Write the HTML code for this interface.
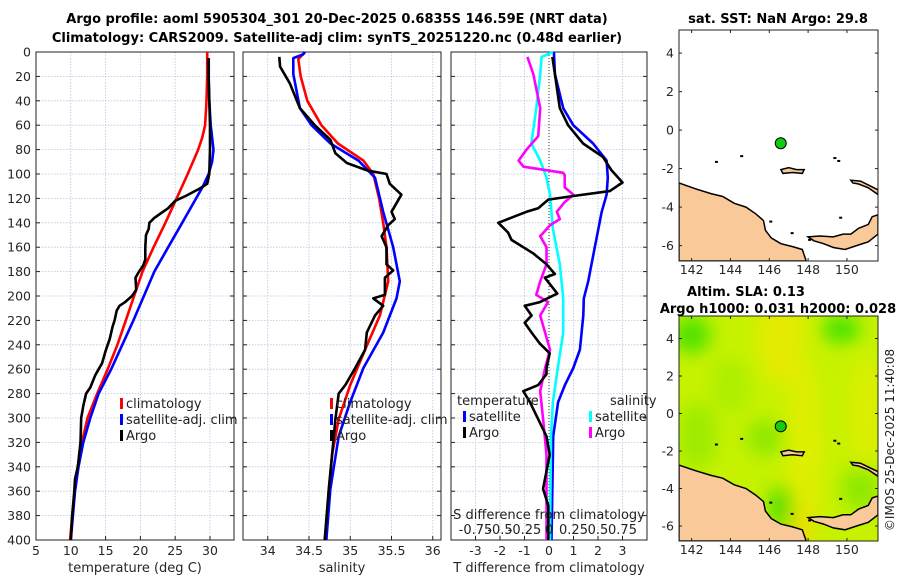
<!DOCTYPE html>
<html><head><meta charset="utf-8"><style>
body{margin:0;background:#fff}
svg{display:block;font-family:"DejaVu Sans","Liberation Sans",sans-serif}
</style></head><body>
<svg id="fig" width="900" height="580" viewBox="0 0 900 580">
<defs><filter id="blur" x="-20%" y="-20%" width="140%" height="140%"><feGaussianBlur stdDeviation="9"/></filter></defs>
<text x="337" y="23" text-anchor="middle" font-size="13" font-weight="bold">Argo profile: aoml 5905304_301 20-Dec-2025 0.6835S 146.59E (NRT data)</text>
<text x="337" y="42" text-anchor="middle" font-size="13" font-weight="bold">Climatology: CARS2009. Satellite-adj clim: synTS_20251220.nc (0.48d earlier)</text>
<g id="p1"></g>
<g id="p2"></g>
<g id="p3"></g>
<g id="m1"></g>
<g id="m2"></g>
<text transform="translate(894,440) rotate(-90)" text-anchor="middle" font-size="12" fill="#222">©IMOS 25-Dec-2025 11:40:08</text>
</svg>
<script>
const depthTicks=[0,20,40,60,80,100,120,140,160,180,200,220,240,260,280,300,320,340,360,380,400];
const tDepth=[0,20,40,60,70,80,100,120,140,160,180,200,220,240,260,280,300,320,340,360,380,400];
const tClim=[29.6,29.6,29.5,29.3,28.9,28.3,26.8,25.2,23.6,21.9,20.3,19.1,17.9,16.7,15.3,13.8,12.4,11.6,11.0,10.6,10.2,9.9];
const tSatDepth=[5,20,40,60,80,90,100,110,120,140,160,180,200,220,240,260,280,300,320,340,360,380,400];
const tSat=[29.8,29.8,29.9,30.1,30.5,30.3,29.8,29.0,28.0,26.0,24.0,22.0,20.5,19.0,17.4,15.8,14.0,12.8,11.8,11.1,10.6,10.3,10.0];
const tArgoDepth=[5,20,40,60,80,100,108,112,118,122,128,132,136,140,145,150,160,170,175,180,185,195,200,205,208,212,220,225,235,245,255,265,275,280,290,300,320,340,350,360,380,400];
const tArgo=[29.8,29.8,29.9,30.0,30.0,29.9,29.6,28.5,26.5,25.0,24.0,23.0,22.0,21.3,21.2,20.8,20.7,20.7,20.4,19.8,19.3,19.4,18.8,17.8,17.0,16.6,16.3,16.0,15.6,15.0,14.5,13.5,12.8,12.2,11.8,11.5,11.4,11.0,10.6,10.5,10.2,10.0];
const sClimDepth=[0,6,20,40,60,75,89,100,120,140,160,188,216,244,273,301,330,360,400];
const sClim=[34.45,34.37,34.4,34.48,34.65,34.85,35.16,35.28,35.35,35.4,35.44,35.46,35.36,35.18,35.0,34.86,34.78,34.74,34.71];
const sSatDepth=[0,2,5,18,46,60,75,89,103,131,160,188,202,230,259,287,315,358,400];
const sSat=[34.45,34.43,34.31,34.31,34.39,34.53,34.76,35.1,35.3,35.4,35.52,35.6,35.56,35.4,35.16,35.0,34.86,34.76,34.71];
const sArgoDepth=[4,12,26,46,60,72,83,91,97,100,108,117,131,137,142,151,160,174,179,185,199,202,208,216,230,244,259,273,280,301,330,358,400];
const sArgo=[34.14,34.15,34.27,34.39,34.57,34.76,34.82,34.96,35.2,35.44,35.48,35.62,35.5,35.54,35.46,35.38,35.44,35.44,35.52,35.42,35.42,35.28,35.4,35.3,35.2,35.18,35.06,34.94,34.86,34.82,34.78,34.74,34.69];
const dTSatDepth=[0,18,46,60,75,89,103,117,131,160,188,202,216,244,259,273,287,315,400];
const dTSat=[0.2,0.24,0.58,0.99,1.8,2.35,2.4,2.35,2.15,1.87,1.6,1.42,1.4,1.26,0.99,0.65,0.37,0.17,0.1];
const dTArgoDepth=[4,18,46,60,75,86,97,107,114,118,121,128,131,140,148,154,165,174,182,185,198,205,208,216,222,230,239,247,259,264,273,278,287,301,315,330,358,372,400];
const dTArgo=[0.14,0.24,0.44,0.78,1.39,2.2,2.55,3.0,2.48,0.99,-0.03,-0.44,-0.92,-2.07,-1.67,-1.53,-0.65,-0.1,0.24,-0.17,0.34,-0.37,-0.99,-0.71,-0.99,-0.71,-0.37,0.03,-0.1,-0.1,-0.44,-1.05,-0.78,-0.44,-0.1,0.03,-0.24,-0.03,-0.03];
const dSSatDepth=[0,4,18,46,75,89,103,117,145,174,202,230,259,287,315,400];
const dSSat=[0.04,-0.075,-0.09,-0.13,-0.18,-0.09,-0.025,0.01,0.04,0.11,0.145,0.145,0.09,0.04,0.02,0.01];
const dSArgoDepth=[4,18,46,69,80,89,94,99,101,111,117,123,131,137,142,151,160,174,188,199,205,216,244,259,278,301,330,400];
const dSArgo=[-0.22,-0.16,-0.09,-0.11,-0.23,-0.31,-0.26,0.145,0.16,0.16,0.25,0.16,0.08,0.11,0.01,-0.09,-0.025,-0.025,-0.09,-0.13,-0.01,-0.09,0.01,-0.04,-0.09,-0.06,-0.025,-0.025];
const argoLon=[146.59], argoLat=[-0.6835];

const NS="http://www.w3.org/2000/svg";
function el(p,tag,at,txt){const e=document.createElementNS(NS,tag);for(const k in at)e.setAttribute(k,at[k]);if(txt!==undefined)e.textContent=txt;p.appendChild(e);return e;}
const Y0=52,Y1=540;
const yD=d=>Y0+(Y1-Y0)*d/400;
function panel(g,x0,x1,v0,v1,xt,xtl,xlabel,showY){
  const xs=v=>x0+(x1-x0)*(v-v0)/(v1-v0);
  depthTicks.forEach(d=>{const l=el(g,'line',{x1:x0,x2:x1,y1:yD(d),y2:yD(d),stroke:'#b8c4e0','stroke-width':0.8,'stroke-dasharray':'1.5,1.5'});
    
    el(g,'line',{x1:x0,x2:x0+4,y1:yD(d),y2:yD(d),stroke:'#222'});el(g,'line',{x1:x1-4,x2:x1,y1:yD(d),y2:yD(d),stroke:'#222'});
    if(showY){const t=el(g,'text',{x:x0-5,y:yD(d)+4.5,'text-anchor':'end','font-size':12.5,fill:'#262626'},d);
      }});
  xt.forEach((v,i)=>{const l=el(g,'line',{x1:xs(v),x2:xs(v),y1:Y0,y2:Y1,stroke:'#b8c4e0','stroke-width':0.8,'stroke-dasharray':'1.5,1.5'});
    
    el(g,'line',{x1:xs(v),x2:xs(v),y1:Y1,y2:Y1-4,stroke:'#222'});
    if(xtl[i]!==''){const t=el(g,'text',{x:xs(v),y:Y1+15,'text-anchor':'middle','font-size':12.5,fill:'#262626'},xtl[i]);
      }});
  const r=el(g,'rect',{x:x0,y:Y0,width:x1-x0,height:Y1-Y0,fill:'none',stroke:'#222','stroke-width':1});
  
  const xl=el(g,'text',{x:(x0+x1)/2,y:Y1+32,'text-anchor':'middle','font-size':13,fill:'#262626'},xlabel);
  
  return xs;
}
function line(g,xs,vals,depths,color,name){
  const d=vals.map((v,i)=>(i?'L':'M')+xs(v).toFixed(1)+','+yD(depths[i]).toFixed(1)).join('');
  const p=el(g,'path',{d:d,fill:'none',stroke:color,'stroke-width':2.6,'stroke-linejoin':'round'});
  
}
function legend(g,x,y,color,label,name){
  el(g,'rect',{x:x,y:y-10,width:3,height:11,fill:color});
  const t=el(g,'text',{x:x+6,y:y,'font-size':13,fill:'#222'},label);
  
}
const g1=document.getElementById('p1');
const xs1=panel(g1,36,234,5,33.45,[5,10,15,20,25,30],['5','10','15','20','25','30'],'temperature (deg C)',true);
line(g1,xs1,tClim,tDepth,'#f00','temp-climatology-line');
line(g1,xs1,tSat,tSatDepth,'#00f','temp-satellite-line');
line(g1,xs1,tArgo,tArgoDepth,'#000','temp-argo-line');
legend(g1,120,408,'#f00','climatology','legend-climatology');
legend(g1,120,424,'#00f','satellite-adj. clim','legend-satellite');
legend(g1,120,440,'#000','Argo','legend-argo');
const g2=document.getElementById('p2');
const xs2=panel(g2,243,441,33.7,36.1,[34,34.5,35,35.5,36],['34','34.5','35','35.5','36'],'salinity',false);
line(g2,xs2,sClim,sClimDepth,'#f00','sal-climatology-line');
line(g2,xs2,sSat,sSatDepth,'#00f','sal-satellite-line');
line(g2,xs2,sArgo,sArgoDepth,'#000','sal-argo-line');
legend(g2,330,408,'#f00','climatology','legend-climatology');
legend(g2,330,424,'#00f','satellite-adj. clim','legend-satellite');
legend(g2,330,440,'#000','Argo','legend-argo');
const g3=document.getElementById('p3');
const xs3=panel(g3,451,647,-4,4,[-3,-2,-1,0,1,2,3],['-3','-2','-1','0','1','2','3'],'T difference from climatology',false);
el(g3,'line',{x1:xs3(0),x2:xs3(0),y1:Y0,y2:Y1,stroke:'#333','stroke-width':1,'stroke-dasharray':'1,2'});
const xsS=v=>xs3(v*4);
line(g3,xs3,dTSat,dTSatDepth,'#00f','dT-satellite-line');
line(g3,xsS,dSSat,dSSatDepth,'#0ff','dS-satellite-line');
line(g3,xsS,dSArgo,dSArgoDepth,'#f0f','dS-argo-line');
line(g3,xs3,dTArgo,dTArgoDepth,'#000','dT-argo-line');
el(g3,'text',{x:457,y:405,'font-size':13,fill:'#222'},'temperature');
el(g3,'text',{x:610,y:405,'font-size':13,fill:'#222'},'salinity');
legend(g3,463,421,'#00f','satellite','legend-T-satellite');
legend(g3,463,437,'#000','Argo','legend-T-argo');
legend(g3,589,421,'#0ff','satellite','legend-S-satellite');
legend(g3,589,437,'#f0f','Argo','legend-S-argo');
el(g3,'text',{x:549,y:519,'text-anchor':'middle','font-size':13,fill:'#222'},'S difference from climatology');
const sTicks=[-0.75,-0.5,-0.25,0,0.25,0.5,0.75];
const sTickLabels=['-0.75','-0.5','-0.25','0','0.25','0.5','0.75'];
sTicks.forEach((v,i)=>{const t=el(g3,'text',{x:xsS(v),y:534,'text-anchor':'middle','font-size':13,fill:'#222'},sTickLabels[i]);
  });
const LX0=679,LX1=878,LON0=141.35,LON1=151.6,LAT0=5.2,LAT1=-6.8;
const land1=[[141.35,-2.75],[142.2,-3.05],[143,-3.3],[143.6,-3.45],[144.2,-3.8],[144.8,-4.0],[145.3,-4.35],[145.7,-4.7],[145.8,-5.2],[146.1,-5.6],[146.6,-5.9],[147.2,-6.05],[147.7,-6.2],[147.9,-6.8],[141.35,-6.8]];
const land2=[[148.0,-5.55],[148.6,-5.5],[149.3,-5.55],[149.8,-5.4],[150.2,-5.4],[150.6,-5.1],[151.1,-4.9],[151.3,-4.5],[151.6,-4.4],[151.6,-5.4],[151.1,-5.8],[150.5,-6.0],[149.9,-6.2],[149.3,-6.1],[148.8,-5.9],[148.3,-5.75]];
const land3=[[146.6,-2.05],[147.0,-1.95],[147.4,-2.05],[147.8,-2.05],[147.7,-2.25],[147.2,-2.2],[146.7,-2.25]];
const land4=[[150.2,-2.6],[150.7,-2.65],[151.2,-2.9],[151.6,-3.1],[151.6,-3.35],[151.1,-3.0],[150.6,-2.8],[150.3,-2.75]];
const isl=[[149.3,-1.4],[149.5,-1.55],[146.0,-4.7],[147.1,-5.3],[148.0,-5.65],[144.5,-1.3],[143.2,-1.6],[149.6,-4.5]];
function map(g,y0,y1,sla){
  const mx=v=>LX0+(LX1-LX0)*(v-LON0)/(LON1-LON0), my=v=>y0+(y1-y0)*(v-LAT0)/(LAT1-LAT0);
  const id='c'+y0;el(g,'clipPath',{id:id}).appendChild(document.createElementNS(NS,'rect'));
  const cr=g.querySelector('#'+id+' rect');cr.setAttribute('x',LX0);cr.setAttribute('y',y0);cr.setAttribute('width',LX1-LX0);cr.setAttribute('height',y1-y0);
  const inner=el(g,'g',{'clip-path':'url(#'+id+')'});
  if(sla){
    el(inner,'rect',{x:LX0,y:y0,width:LX1-LX0,height:y1-y0,fill:'#c6f200'});
    const bg=el(inner,'g',{filter:'url(#blur)'});
    const blobs=[[146.6,4,1.2,2.5,'#e8ea00'],[147.8,-2,0.9,5,'#e2ee00'],[147.7,-6,0.6,1.2,'#eedd00'],[151,0,0.8,3,'#e0ee00'],[142,4.2,1,1,'#44e000'],[149.7,4.5,1,0.7,'#33e000'],[142.3,-1.2,1,1.8,'#99ea00'],[145.8,-1.3,1,1,'#88e800'],[146.6,-5,0.6,1.2,'#33dd00'],[150.7,-4,1,1.2,'#88e800'],[144,1.5,1,1.5,'#aaee00']];
    blobs.forEach(b=>{el(bg,'ellipse',{cx:mx(b[0]),cy:my(b[1]),rx:19.4*b[2],ry:18.7*b[3],fill:b[4],opacity:0.9});});
  }
  [land1,land2,land3,land4].forEach(pl=>{const p=el(inner,'polygon',{points:pl.map(q=>mx(q[0]).toFixed(1)+','+my(q[1]).toFixed(1)).join(' '),fill:'#f9c99a',stroke:'#000','stroke-width':1.5});
    });
  isl.forEach(q=>el(inner,'rect',{x:mx(q[0]),y:my(q[1]),width:3,height:2,fill:'#000'}));
  argoLon.forEach((lo,i)=>{const c=el(g,'circle',{cx:mx(lo),cy:my(argoLat[i]),r:5.5,fill:'#1c1',stroke:'#000','stroke-width':1});
    });
  el(g,'rect',{x:LX0,y:y0,width:LX1-LX0,height:y1-y0,fill:'none',stroke:'#222'});
  [4,2,0,-2,-4,-6].forEach(v=>{el(g,'line',{x1:LX0,x2:LX0+3,y1:my(v),y2:my(v),stroke:'#222'});el(g,'line',{x1:LX1-3,x2:LX1,y1:my(v),y2:my(v),stroke:'#222'});
    const t=el(g,'text',{x:LX0-5,y:my(v)+4.5,'text-anchor':'end','font-size':12.5,fill:'#262626'},v);});
  [142,144,146,148,150].forEach(v=>{el(g,'line',{x1:mx(v),x2:mx(v),y1:y1,y2:y1-3,stroke:'#222'});el(g,'line',{x1:mx(v),x2:mx(v),y1:y0,y2:y0+3,stroke:'#222'});
    const t=el(g,'text',{x:mx(v),y:y1+13,'text-anchor':'middle','font-size':12.5,fill:'#262626'},v);});
}
const m1=document.getElementById('m1');map(m1,30,261,false);
el(m1,'text',{x:778,y:23,'text-anchor':'middle','font-size':13,'font-weight':'bold'},'sat. SST: NaN Argo: 29.8');
const m2=document.getElementById('m2');map(m2,316,541,true);
el(m2,'text',{x:746,y:296,'text-anchor':'middle','font-size':13,'font-weight':'bold'},'Altim. SLA: 0.13');
el(m2,'text',{x:778,y:313,'text-anchor':'middle','font-size':13,'font-weight':'bold'},'Argo h1000: 0.031 h2000: 0.028');
</script>
</body></html>
